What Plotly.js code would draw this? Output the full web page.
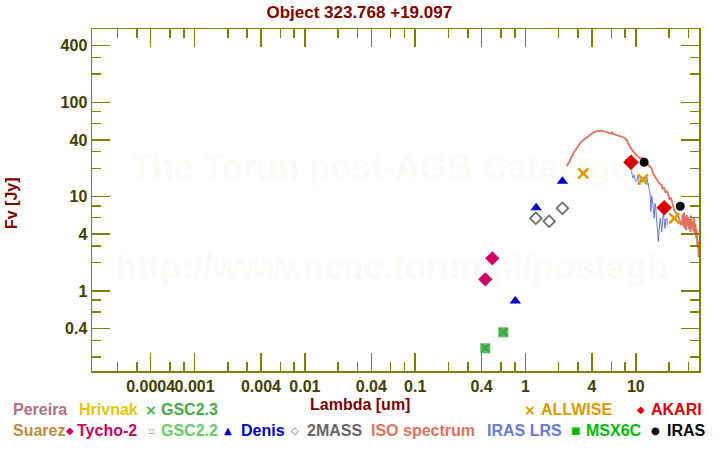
<!DOCTYPE html>
<html><head><meta charset="utf-8">
<script src="https://cdn.plot.ly/plotly-3.0.1.min.js"></script>
<style>html,body{margin:0;padding:0;background:#fff}#chart{width:720px;height:450px}</style>
</head><body><div id="chart"></div>
<script>
// ---------------- data ----------------
const tychoX = [0.432, 0.50];
const tychoY = [1.33, 2.22];
const gsc22X = [0.432, 0.629];
const gsc22Y = [0.247, 0.365];
const gsc23X = [0.432, 0.629];
const gsc23Y = [0.247, 0.365];
const denisX = [0.808, 1.25, 2.16];
const denisY = [0.783, 7.64, 14.6];
const twomassX = [1.24, 1.64, 2.16];
const twomassY = [5.9, 5.48, 7.53];
const allwiseX = [3.34, 11.6, 22.3];
const allwiseY = [17.7, 15.3, 5.9];
const akariX = [9.05, 18.1];
const akariY = [23.2, 7.64];
const irasX = [11.9, 25.3];
const irasY = [23.2, 7.91];

const isoX = [2.36,2.5,2.71,2.9,3.12,3.35,3.59,3.85,4.12,4.4,4.73,5.1,5.45,5.8,6.0,6.1,6.25,6.7,7.19,7.7,8.0,8.27,8.5,8.86,9.3,9.84,10.3,10.9,11.5,12.1,12.6,13.2,13.9,14.4,14.9,15.5,16.2,16.8,17.2,17.5,18.0,18.6,19.2,19.7,20.2,20.8,21.4,21.9,22.5,23.2,23.8,24.3,25.0,25.5,26.1,26.6,27.0,27.4,27.8,28.2,28.6,29.0,29.5,29.9,30.4,30.8,31.3,31.8,32.3,32.8,33.2,33.8,34.3,34.8,35.3,35.7,36.2,36.7,37.2,37.8,38.5];
const isoY = [21.2,23.5,28.8,32.5,36.8,40.0,42.7,45.5,47.8,49.5,50.1,49.5,48.5,47.0,46.5,48.5,46.2,45.0,44.0,42.7,41.5,39.9,37.0,33.9,31.0,28.8,27.5,25.5,25.8,24.5,22.5,21.5,20.0,17.5,16.3,15.5,14.0,13.5,13.3,12.0,12.5,11.0,11.5,10.4,9.2,9.8,8.2,7.8,7.0,6.8,6.2,6.1,5.6,5.0,5.2,6.5,4.8,6.8,4.6,6.2,4.4,6.4,4.9,6.1,4.5,5.8,4.2,6.3,4.6,5.6,4.3,6.0,4.0,5.2,3.6,4.5,2.9,3.4,2.3,2.6,2.0];

const lrsX = [8.1,8.3,8.5,8.86,9.0,9.18,9.35,9.5,9.7,9.9,10.2,10.4,10.6,10.9,11.1,11.3,11.6,11.9,12.1,12.3,12.5,12.7,12.9,13.1,13.4,13.6,13.7,13.9,14.1,14.4,14.7,14.9,15.1,15.4,15.7,15.85,16.0,16.3,16.6,16.9,17.2,17.5,17.8,18.1,18.4,18.7,19.1,19.3];
const lrsY = [25.1,22.0,23.5,21.7,19.5,18.4,16.0,15.7,17.0,14.8,14.4,16.5,15.7,13.3,15.2,16.3,14.2,16.0,15.0,13.6,17.0,14.5,13.9,12.5,11.3,9.0,6.93,10.2,9.6,7.5,5.9,8.5,8.17,6.0,5.0,4.0,3.33,4.6,5.9,5.2,4.25,5.6,6.93,5.5,4.62,5.8,5.9,5.0];

const xTickVals = [0.0004, 0.001, 0.004, 0.01, 0.04, 0.1, 0.4, 1, 4, 10];
const xTickText = ['0.0004', '0.001', '0.004', '0.01', '0.04', '0.1', '0.4', '1', '4', '10'];
const xMinorVals = [0.0002,0.0003,0.0006,0.0008,0.002,0.003,0.006,0.008,0.02,0.03,0.06,0.08,0.2,0.3,0.6,0.8,2,3,6,8,20,30];
const yTickVals = [0.4, 1, 4, 10, 40, 100, 400];
const yTickText = ['0.4', '1', '4', '10', '40', '100', '400'];
const yMinorVals = [0.2,0.3,0.6,0.8,2,3,6,8,20,30,60,80,200,300];

const titleText = 'Object 323.768 +19.097';
const xTitle = 'Lambda [um]';
const yTitle = 'Fv [Jy]';
const watermark1 = 'The Torun post-AGB Catalogue';
const watermark2 = 'http://www.ncac.torun.pl/postagb';

// legend rows (labels)
const legendNames = ['Pereira','Hrivnak','GSC2.3','ALLWISE','AKARI','Suarez','Tycho-2','GSC2.2','Denis','2MASS','ISO spectrum','IRAS LRS','MSX6C','IRAS'];
const legendSymbols = ['', '', '×', '×', '◆', '', '◆', '▫', '▲', '◇', '', '', '■', '●'];

// ---------------- layout / styling ----------------
const L = 92, R = 699, T = 29, B = 371;
const px2x = p => (p - L) / (R - L);
const px2y = p => (B - p) / (B - T);
const FONT = 'Liberation Sans, Arial, Helvetica, sans-serif';

const legendStyle = [
  {tx: 12, sx: null, y: 410, c: '#b07088'},
  {tx: 78, sx: null, y: 410, c: '#e8c400'},
  {tx: 160, sx: 151, y: 410, c: '#44aa44'},
  {tx: 540, sx: 530, y: 410, c: '#dd9900'},
  {tx: 650, sx: 641, y: 410, c: '#dd0000'},
  {tx: 12, sx: null, y: 430, c: '#c08a40'},
  {tx: 76, sx: 70, y: 430, c: '#cc0066'},
  {tx: 160, sx: 151, y: 430, c: '#66cc66'},
  {tx: 240, sx: 228, y: 430, c: '#0000cc'},
  {tx: 306, sx: 295, y: 430, c: '#666666'},
  {tx: 370, sx: null, y: 430, c: '#e07060'},
  {tx: 486, sx: null, y: 430, c: '#6677dd'},
  {tx: 585, sx: 575, y: 430, c: '#00bb00'},
  {tx: 666, sx: 655, y: 430, c: '#000000'}
];

const annotations = [];
// axis titles
annotations.push({text: xTitle, xref: 'paper', yref: 'paper', x: px2x(360), y: px2y(404), xanchor: 'center', yanchor: 'middle', showarrow: false, font: {family: FONT, size: 16, weight: 'bold', color: '#800000'}});
annotations.push({text: yTitle, xref: 'paper', yref: 'paper', x: px2x(11), y: px2y(203), xanchor: 'center', yanchor: 'middle', textangle: -90, showarrow: false, font: {family: FONT, size: 16, weight: 'bold', color: '#800000'}});
// legend
legendNames.forEach((n, i) => {
  const s = legendStyle[i];
  annotations.push({text: n, xref: 'paper', yref: 'paper', x: px2x(s.tx), y: px2y(s.y), xanchor: 'left', yanchor: 'middle', showarrow: false, borderpad: 0, font: {family: FONT, size: 16, weight: 'bold', color: s.c}});
  if (legendSymbols[i]) {
    annotations.push({text: legendSymbols[i], xref: 'paper', yref: 'paper', x: px2x(s.sx), y: px2y(s.y), xanchor: 'center', yanchor: 'middle', showarrow: false, borderpad: 0, font: {family: 'DejaVu Sans, sans-serif', size: legendSymbols[i] === '×' ? 14 : 10, weight: 'bold', color: s.c}});
  }
});

// watermarks drawn below the data as shape labels
const wmFont = {family: FONT, size: 35, weight: 'bold', color: '#fcfaf6'};
const shapes = [
  {type: 'rect', layer: 'below', xref: 'paper', yref: 'paper', x0: px2x(391) - 0.01, x1: px2x(391) + 0.01, y0: px2y(163) - 0.01, y1: px2y(163) + 0.01, line: {width: 0}, fillcolor: 'rgba(0,0,0,0)', label: {text: watermark1, textposition: 'middle center', font: wmFont}},
  {type: 'rect', layer: 'below', xref: 'paper', yref: 'paper', x0: px2x(392) - 0.01, x1: px2x(392) + 0.01, y0: px2y(263) - 0.01, y1: px2y(263) + 0.01, line: {width: 0}, fillcolor: 'rgba(0,0,0,0)', label: {text: watermark2, textposition: 'middle center', font: wmFont}}
];

const traces = [
  {x: isoX, y: isoY, mode: 'lines', line: {color: '#e07060', width: 1.8}, name: 'ISO spectrum'},
  {x: lrsX, y: lrsY, mode: 'lines', line: {color: '#6677dd', width: 1}, name: 'IRAS LRS'},
  {x: gsc22X, y: gsc22Y, mode: 'markers', marker: {symbol: 'square', size: 10, color: '#55bb55'}, name: 'GSC2.2'},
  {x: gsc23X, y: gsc23Y, mode: 'markers', marker: {symbol: 'x-thin', size: 8, line: {color: '#3d9a3d', width: 1.5}}, name: 'GSC2.3'},
  {x: tychoX, y: tychoY, mode: 'markers', marker: {symbol: 'diamond', size: 11, color: '#cc0066'}, name: 'Tycho-2'},
  {x: denisX, y: denisY, mode: 'markers', marker: {symbol: 'triangle-up', size: 10, color: '#0000cc'}, name: 'Denis'},
  {x: twomassX, y: twomassY, mode: 'markers', marker: {symbol: 'diamond-open', size: 9, color: '#666666', line: {width: 1.6}}, name: '2MASS'},
  {x: allwiseX, y: allwiseY, mode: 'markers', marker: {symbol: 'x-thin', size: 10, line: {color: '#dd9900', width: 2.5}}, name: 'ALLWISE'},
  {x: akariX, y: akariY, mode: 'markers', marker: {symbol: 'diamond', size: 12, color: '#dd0000'}, name: 'AKARI'},
  {x: irasX, y: irasY, mode: 'markers', marker: {symbol: 'circle', size: 9, color: '#000000'}, name: 'IRAS'}
];

const axisCommon = {
  type: 'log', showgrid: false, zeroline: false, showline: true, linecolor: '#808000', linewidth: 1.5,
  mirror: 'allticks', ticks: 'inside', ticklen: 18, tickwidth: 1.5, tickcolor: '#808000', tickangle: 0,
  tickmode: 'array', tickfont: {family: FONT, size: 16, weight: 'bold', color: '#404000'}
};

const layout = {
  width: 720, height: 450,
  margin: {l: L, r: 720 - R, t: T, b: 450 - B, pad: 0},
  paper_bgcolor: '#ffffff', plot_bgcolor: '#ffffff',
  showlegend: false,
  title: {text: titleText, x: 0.499, xref: 'container', y: 1 - 12 / 450, yref: 'container', xanchor: 'center', yanchor: 'middle', font: {family: FONT, size: 17, weight: 'bold', color: '#800000'}},
  xaxis: Object.assign({}, axisCommon, {
    range: [-3.930, 1.573], tickvals: xTickVals, ticktext: xTickText,
    minor: {tickmode: 'array', tickvals: xMinorVals, ticks: 'inside', ticklen: 9, tickwidth: 1.5, tickcolor: '#808000', showgrid: false}
  }),
  yaxis: Object.assign({}, axisCommon, {
    range: [-0.848, 2.778], tickvals: yTickVals, ticktext: yTickText,
    minor: {tickmode: 'array', tickvals: yMinorVals, ticks: 'inside', ticklen: 9, tickwidth: 1.5, tickcolor: '#808000', showgrid: false}
  }),
  shapes: shapes,
  annotations: annotations
};

Plotly.newPlot('chart', traces, layout, {staticPlot: true, displayModeBar: false});
</script>
</body></html>
